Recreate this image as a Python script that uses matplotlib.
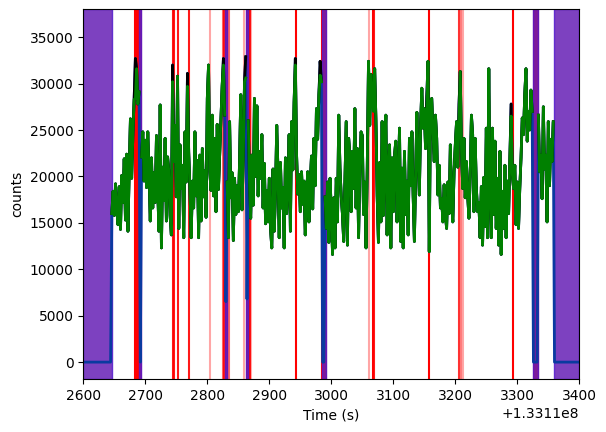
import numpy as np
import matplotlib
matplotlib.use("Agg")
import matplotlib.pyplot as plt

# ---------------- data ----------------
time_offset = 1.3311e8
bin_start = 2600.0
bin_width = 2.0

# clean (green) counts per 2-s bin, 2600 .. 3400
counts = [
    0, 0, 0, 0, 0, 0, 0, 0, 0, 0,                                          # 2600
    0, 0, 0, 0, 0, 0, 0, 0, 0, 0,                                          # 2620
    0, 0, 0, 16000, 18400, 15800, 19200, 16500, 14800, 18900,              # 2640
    14300, 20100, 17200, 21900, 15300, 22400, 14100, 20500, 26200, 19800,  # 2660
    24600, 28300, 28400, 31600, 27800, 29100, 0, 22100, 24800, 19500,      # 2680
    23900, 18800, 24800, 20600, 15200, 22000, 16600, 20400, 17200, 24400,  # 2700
    18700, 14100, 27700, 12300, 21000, 17400, 24100, 15200, 22100, 20500,  # 2720
    15800, 13700, 30200, 21600, 25500, 17800, 30800, 14400, 23400, 18700,  # 2740
    21200, 13400, 24800, 19400, 29700, 22600, 18700, 13400, 19500, 16600,  # 2760
    24800, 17900, 21700, 13400, 22300, 15200, 23000, 17800, 20600, 15600,  # 2780
    28400, 32000, 20500, 18500, 26600, 17900, 24100, 16200, 25600, 18600,  # 2800
    22500, 26200, 29800, 32000, 26600, 6500, 19400, 13400, 25900, 17700,   # 2820
    20400, 13100, 19800, 15900, 19000, 16200, 21500, 28800, 16400, 22000,  # 2840
    30200, 30600, 6800, 26000, 19500, 15500, 22300, 16900, 28400, 20000,   # 2860
    27600, 17900, 22700, 19800, 24500, 16600, 21400, 14900, 18500, 15100,  # 2880
    19800, 14400, 12300, 20800, 14100, 18300, 25500, 20600, 13400, 21500,  # 2900
    16600, 18800, 12300, 22000, 16000, 19200, 24500, 14100, 25900, 20700,  # 2920
    28000, 32000, 22300, 18100, 20200, 16200, 20500, 17000, 19500, 13700,  # 2940
    18000, 20500, 15100, 19100, 22200, 16500, 24100, 19000, 27300, 24000,  # 2960
    28800, 30900, 30200, 0, 0, 17800, 14400, 19400, 12900, 19800,          # 2980
    16200, 11600, 17700, 12300, 19800, 15100, 26600, 20900, 17900, 15900,  # 3000
    13000, 19400, 25900, 12600, 24100, 22300, 16200, 22700, 18700, 27300,  # 3020
    16600, 23000, 13400, 21000, 24800, 24400, 15900, 19400, 12300, 21000,  # 3040
    32400, 25500, 31000, 28000, 27000, 31600, 26000, 17900, 12900, 21500,  # 3060
    15100, 25900, 15800, 22000, 26600, 13700, 20500, 23400, 12300, 22000,  # 3080
    16200, 22300, 23800, 15100, 19500, 25200, 13000, 20900, 12300, 22700,  # 3100
    15900, 19500, 13700, 24100, 19000, 24800, 18000, 13000, 20000, 26900,  # 3120
    21900, 18000, 25500, 29500, 25200, 27300, 23000, 26500, 32400, 11900,  # 3140
    28000, 28400, 24800, 21600, 26600, 24100, 18000, 21200, 16600, 17600,  # 3160
    15100, 19100, 15900, 14400, 19400, 16000, 23400, 17300, 15100, 20500,  # 3180
    23400, 25900, 21000, 26200, 31300, 22700, 18700, 24100, 17700, 21600,  # 3200
    17900, 15500, 20000, 26600, 24500, 16200, 24100, 18700, 16200, 17200,  # 3220
    13400, 18900, 12600, 19900, 14600, 25200, 13400, 31600, 18700, 13400,  # 3240
    25200, 15900, 23800, 14400, 19800, 12600, 22700, 11600, 18400, 14400,  # 3260
    21200, 13400, 19500, 16000, 22000, 26500, 20200, 18700, 21200, 14800,  # 3280
    19400, 14400, 18700, 22000, 26300, 24500, 28800, 31600, 23800, 27000,  # 3300
    25000, 29300, 27000, 0, 0, 0, 0, 26600, 20500, 22300,                  # 3320
    17600, 27500, 20800, 22300, 15100, 25900, 19000, 24000, 21600, 25900,  # 3340
    0, 0, 0, 0, 0, 0, 0, 0, 0, 0,                                          # 3360
    0, 0, 0, 0, 0, 0, 0, 0, 0, 0,                                          # 3380
    0,                                                                     # 3400
]

# raw (black) counts that differ from the clean series
raw_times = [2684, 2744, 2768, 2826, 2862, 2942, 2982, 3068, 3154, 3206, 3290]
raw_values = [32700, 32000, 31100, 32700, 32900, 32700, 32400, 28600, 28600, 27800, 27800]

# flagged times (red vertical lines) and their strength
flag_times = [2683, 2685, 2687, 2689, 2691, 2692.5, 2744, 2746.5, 2753, 2771,
              2804.5, 2825, 2827, 2829.5, 2831, 2834.5, 2859, 2863.5, 2865,
              2866.5, 2868.5, 2870, 2943, 2985.5, 2987.5, 2989.5, 2991,
              3061.3, 3066.8, 3069, 3157, 3206.5, 3209, 3212, 3293.5,
              3326.5, 3328.5, 3330.5, 3333]
flag_alpha = [1, 1, 1, 1, 1, 1, 0.9, 0.9, 0.9, 0.9,
              0.35, 0.6, 0.9, 1, 1, 0.6, 0.35, 1, 1,
              1, 0.9, 0.3, 1, 1, 1, 1, 1,
              0.35, 1, 0.9, 1, 0.8, 0.5, 0.35, 1,
              1, 1, 1, 1]

# excluded intervals (purple)
span_start = [2600, 2690, 2828.5, 2862.5, 2984.5, 3325.5, 3358.7]
span_end = [2645.5, 2693.5, 2831.5, 2865.5, 2991.5, 3333.5, 3400]

# ---------------- derived series ----------------
clean = np.array(counts, dtype=float)
t_rel = bin_start + bin_width * np.arange(len(clean))
t_abs = time_offset + t_rel

raw = clean.copy()
for tt, vv in zip(raw_times, raw_values):
    idx = int(round((tt - bin_start) / bin_width))
    raw[idx] = vv

valid = clean > 8000
raw_valid = np.where(valid, raw, np.nan)
clean_valid = np.where(valid, clean, np.nan)

# ---------------- plot ----------------
fig = plt.figure(figsize=(6.06, 4.32), dpi=100)
ax = fig.add_axes([83.3 / 606, (432 - 379.3) / 432, 496 / 606, 370 / 432])

for tt, aa in zip(flag_times, flag_alpha):
    ax.axvline(time_offset + tt, color="red", alpha=aa, lw=1.5, zorder=1)

for s, e in zip(span_start, span_end):
    ax.axvspan(time_offset + s, time_offset + e, facecolor=(0.40, 0.12, 0.71),
               edgecolor=(0.33, 0.10, 0.80), lw=1.0, alpha=0.85, zorder=1.5)

ax.plot(t_abs, raw, color="#0a3aa0", lw=2, zorder=2)
ax.plot(t_abs, raw_valid, color="black", lw=2, zorder=3)
ax.plot(t_abs, clean_valid, color="green", lw=2, zorder=4)

ax.set_xlim(time_offset + 2600, time_offset + 3400)
ax.set_ylim(-1850, 38000)
ax.set_xlabel("Time (s)")
ax.set_ylabel("counts")

fig.savefig("out.png", dpi=100)
